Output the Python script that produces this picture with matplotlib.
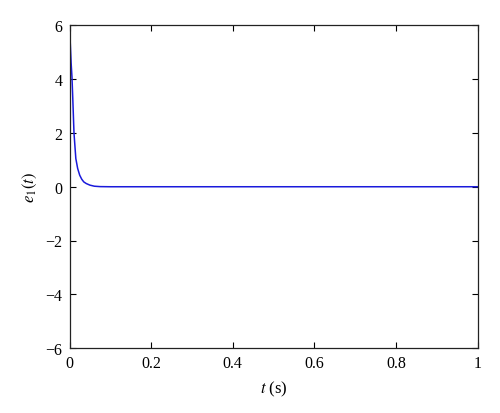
import matplotlib
matplotlib.use('Agg')
import matplotlib.pyplot as plt

# values
t = [0.0, 0.002, 0.004, 0.006, 0.008, 0.011, 0.0155, 0.02, 0.025, 0.03, 0.035,
     0.041, 0.05, 0.061, 0.075, 0.1, 0.2, 0.4, 0.6, 0.8, 1.0]
e1 = [6.0, 5.3, 4.6, 4.1, 3.3, 2.0, 1.05, 0.68, 0.43, 0.28, 0.18,
      0.12, 0.06, 0.02, 0.005, 0.0, 0.0, 0.0, 0.0, 0.0, 0.0]

xticks = [0, 0.2, 0.4, 0.6, 0.8, 1]
xticklabels = ['0', '0.2', '0.4', '0.6', '0.8', '1']
yticks = [-6, -4, -2, 0, 2, 4, 6]

plt.rcParams['font.family'] = 'Liberation Serif'
plt.rcParams['mathtext.fontset'] = 'stix'

fig = plt.figure(figsize=(5, 4.14), dpi=100)
ax = fig.add_axes([0.139, 0.157, 0.816, 0.779])

ax.plot(t, e1, color='#1a1adb', linewidth=1.1)

ax.set_xlim(0, 1)
ax.set_ylim(-6, 6)
ax.set_xticks(xticks)
ax.set_xticklabels(xticklabels)
ax.set_yticks(yticks)
ax.tick_params(direction='in', top=True, right=True, length=4, width=0.8,
               labelsize=11.5, pad=5)
for s in ax.spines.values():
    s.set_linewidth(0.9)
    s.set_color('#222222')

ax.set_xlabel('$t$ (s)', fontsize=12, labelpad=6)
ax.set_ylabel('$e_1(t)$', fontsize=12, labelpad=5)

fig.savefig('out.png', dpi=100)
